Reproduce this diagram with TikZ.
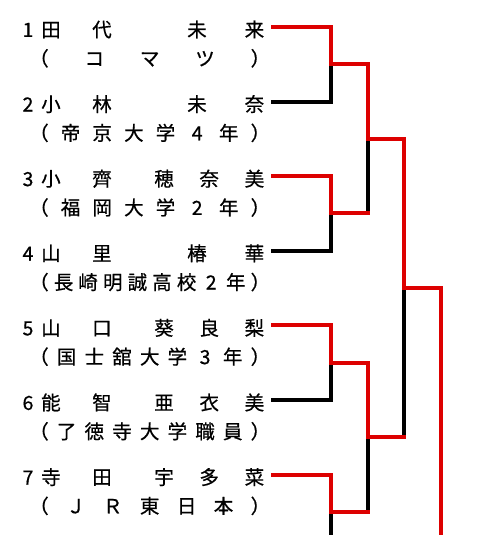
\documentclass[tikz,border=0pt]{standalone}
\usepackage{fontspec}
\setmainfont{Noto Sans CJK JP}[FakeBold=0.6]
\definecolor{winred}{RGB}{221,0,0}
\newcommand\cel[1]{\makebox[1em]{#1}}
\begin{document}
\begin{tikzpicture}[x=1pt,y=-1pt,
  bk/.style={line width=4pt, draw=black, line join=miter, line cap=rect},
  rd/.style={bk, draw=winred},
  txtbase/.style={inner sep=0pt, font=\fontsize{19.5}{22}\selectfont},
  numlbl/.style={txtbase, anchor=base},
  namelbl/.style={txtbase, anchor=base west},
  sublbl/.style={txtbase, anchor=base west}]
\useasboundingbox (0,0) rectangle (480,535);
\clip (0,0) rectangle (480,535);
% player names
\node[numlbl] (n1) at (28,36.9) {1};
\node[namelbl] (nm1) at (41,36.9) {\hbox to 223pt{田\hspace{31.5pt}代\hfill 未\hspace{38pt}来}};
\node[sublbl] (sb1) at (29,65.7) {\hbox to 241pt{\cel{（}\hfill\cel{コ}\hfill\cel{マ}\hfill\cel{ツ}\hfill\cel{）}}};
\node[numlbl] (n2) at (28,111.5) {2};
\node[namelbl] (nm2) at (41,111.5) {\hbox to 223pt{小\hspace{31.5pt}林\hfill 未\hspace{38pt}奈}};
\node[sublbl] (sb2) at (29,140.3) {\hbox to 241pt{\cel{（}\hfill\cel{帝}\hfill\cel{京}\hfill\cel{大}\hfill\cel{学}\hfill\cel{4}\hfill\cel{年}\hfill\cel{）}}};
\node[numlbl] (n3) at (28,186.1) {3};
\node[namelbl] (nm3) at (41,186.1) {\hbox to 223pt{小\hspace{31.5pt}齊\hfill 穂\hspace{25.7pt}奈\hspace{25.7pt}美}};
\node[sublbl] (sb3) at (29,214.9) {\hbox to 241pt{\cel{（}\hfill\cel{福}\hfill\cel{岡}\hfill\cel{大}\hfill\cel{学}\hfill\cel{2}\hfill\cel{年}\hfill\cel{）}}};
\node[numlbl] (n4) at (28,260.7) {4};
\node[namelbl] (nm4) at (41,260.7) {\hbox to 223pt{山\hspace{31.5pt}里\hfill 椿\hspace{38pt}華}};
\node[sublbl] (sb4) at (29,289.5) {\hbox to 241pt{\cel{（}\hfill\cel{長}\hfill\cel{崎}\hfill\cel{明}\hfill\cel{誠}\hfill\cel{高}\hfill\cel{校}\hfill\cel{2}\hfill\cel{年}\hfill\cel{）}}};
\node[numlbl] (n5) at (28,335.3) {5};
\node[namelbl] (nm5) at (41,335.3) {\hbox to 223pt{山\hspace{31.5pt}口\hfill 葵\hspace{25.7pt}良\hspace{25.7pt}梨}};
\node[sublbl] (sb5) at (29,364.1) {\hbox to 241pt{\cel{（}\hfill\cel{国}\hfill\cel{士}\hfill\cel{舘}\hfill\cel{大}\hfill\cel{学}\hfill\cel{3}\hfill\cel{年}\hfill\cel{）}}};
\node[numlbl] (n6) at (28,409.9) {6};
\node[namelbl] (nm6) at (41,409.9) {\hbox to 223pt{能\hspace{31.5pt}智\hfill 亜\hspace{25.7pt}衣\hspace{25.7pt}美}};
\node[sublbl] (sb6) at (29,438.7) {\hbox to 241pt{\cel{（}\hfill\cel{了}\hfill\cel{徳}\hfill\cel{寺}\hfill\cel{大}\hfill\cel{学}\hfill\cel{職}\hfill\cel{員}\hfill\cel{）}}};
\node[numlbl] (n7) at (28,484.5) {7};
\node[namelbl] (nm7) at (41,484.5) {\hbox to 223pt{寺\hspace{31.5pt}田\hfill 宇\hspace{25.7pt}多\hspace{25.7pt}菜}};
\node[sublbl] (sb7) at (29,513.3) {\hbox to 241pt{\cel{（}\hfill\cel{Ｊ}\hfill\cel{Ｒ}\hfill\cel{東}\hfill\cel{日}\hfill\cel{本}\hfill\cel{）}}};
% bracket points
\coordinate (p1) at (273,26.9);
\coordinate (p2) at (273,101.5);
\coordinate (p3) at (273,176.1);
\coordinate (p4) at (273,250.7);
\coordinate (p5) at (273,325.3);
\coordinate (p6) at (273,399.9);
\coordinate (p7) at (273,474.5);
\coordinate (p8) at (273,549.1);
\coordinate (j12) at (331,64.2);
\coordinate (j34) at (331,213.4);
\coordinate (j56) at (331,362.6);
\coordinate (j78) at (331,511.8);
\coordinate (k1) at (368,138.8);
\coordinate (k2) at (368,437.2);
\coordinate (f) at (404,288);
\coordinate (w) at (441,288);
\coordinate (wend) at (441,560);
% full bracket in black
\draw[bk] (p1) -| (j12) |- (p2);
\draw[bk] (p3) -| (j34) |- (p4);
\draw[bk] (p5) -| (j56) |- (p6);
\draw[bk] (p7) -| (j78) |- (p8);
\draw[bk] (j12) -| (k1) |- (j34);
\draw[bk] (j56) -| (k2) |- (j78);
\draw[bk] (k1) -| (f) |- (k2);
% winners in red
\draw[rd] (p1) -| (j12) -| (k1) -| (f) -- (w) -- (wend);
\draw[rd] (p3) -| (j34) -- (j34 -| k1);
\draw[rd] (p5) -| (j56) -| (k2) -- (k2 -| f);
\draw[rd] (p7) -| (j78) -- (j78 -| k2);
\end{tikzpicture}
\end{document}
